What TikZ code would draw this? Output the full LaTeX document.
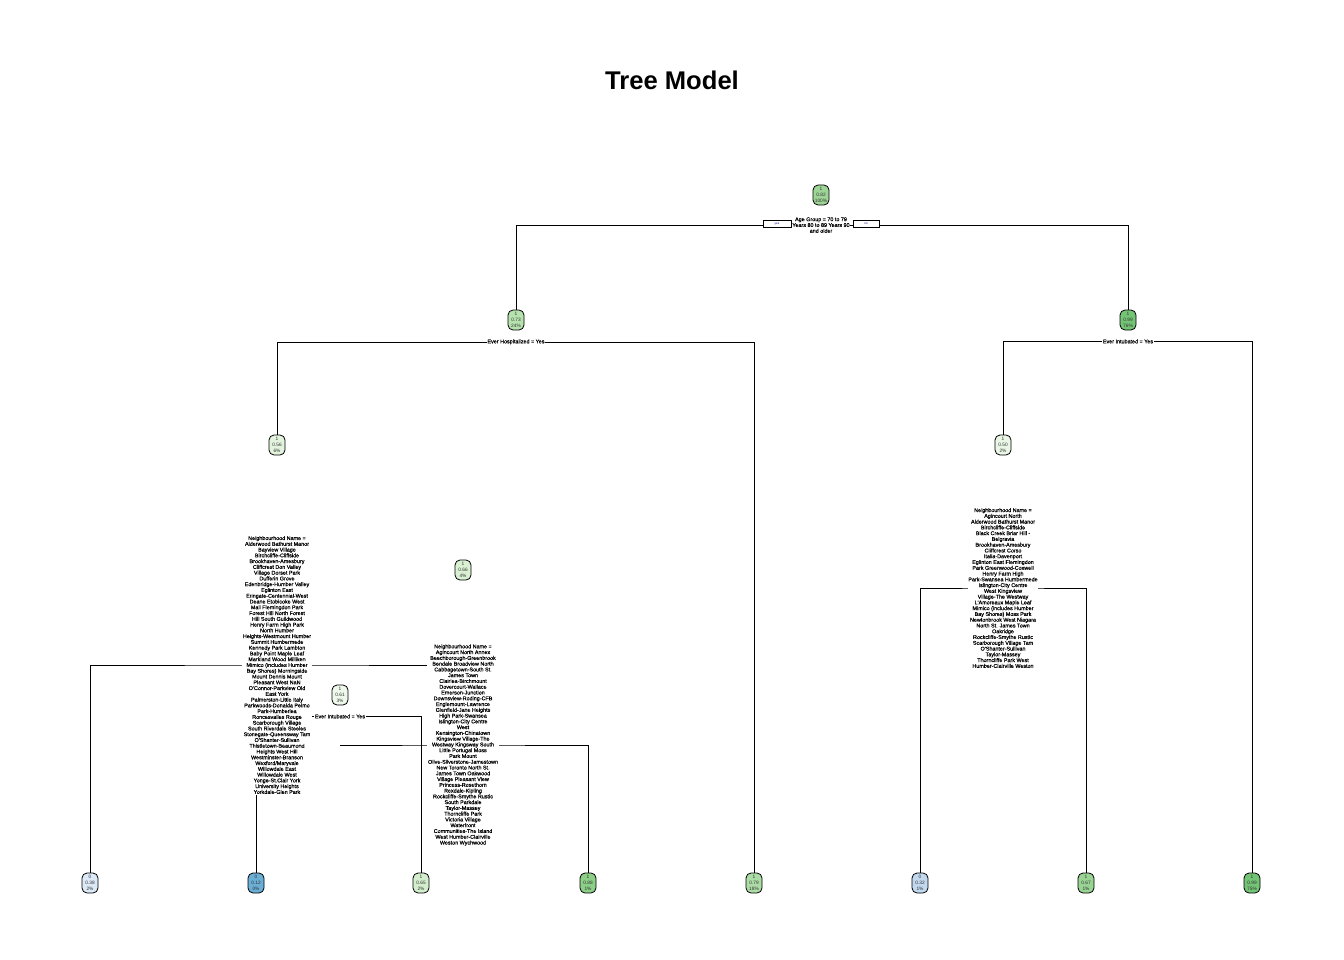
\documentclass[tikz,border=0pt]{standalone}
\usepackage{fontspec}
\setmainfont{Liberation Sans}
\newfontfamily\splitfamily[FakeBold=0.4]{Liberation Sans}
\usetikzlibrary{positioning}
\usetikzlibrary{backgrounds}
\definecolor{gA}{HTML}{9DD597}
\definecolor{gB}{HTML}{B6E2AE}
\definecolor{gC}{HTML}{74C476}
\definecolor{gD}{HTML}{E3F4DE}
\definecolor{gE}{HTML}{EAF6E6}
\definecolor{gF}{HTML}{D9F0D3}
\definecolor{gG}{HTML}{EEF8EB}
\definecolor{gH}{HTML}{D3EECD}
\definecolor{gI}{HTML}{8CCF87}
\definecolor{gJ}{HTML}{ADDDA6}
\definecolor{gK}{HTML}{9AD494}
\definecolor{bA}{HTML}{DCE9F6}
\definecolor{bB}{HTML}{6BAED6}
\definecolor{bC}{HTML}{C1D8EE}
\newcommand{\nodefont}{\fontsize{4.8}{6.3}\selectfont}
\newcommand{\splitfont}{\splitfamily\fontsize{5.4}{5.77}\selectfont}
\tikzstyle{box} = [rectangle, draw, thick, rounded corners=5pt, minimum width=16pt,
                   minimum height=20pt, inner sep=0.5pt, align=center,
                   font=\nodefont, text=black!80]
\tikzstyle{split} = [fill=white, inner sep=0.8pt, align=center, font=\splitfont]
\tikzstyle{yesno} = [draw, fill=white, minimum height=7pt, inner sep=0pt,
                     font=\fontsize{3}{3}\selectfont, text=blue!60!black]
\newcommand{\tnode}[5][]{\node [box, #1] (#2) {#3\\#4\\#5};}
\newcommand{\splitnode}[3][]{\node [split, #1] (#2) {#3};}

\begin{document}
\begin{tikzpicture}[x=1pt, y=-1pt, node distance=8pt]
  \useasboundingbox (0,0) rectangle (1344,960);
  \node [font=\bfseries\fontsize{25.6}{28}\selectfont] (title) at (672,80) {Tree Model};

  % inner nodes
  \tnode[fill=gA, at={(821,195)}] {root} {1} {0.82} {100\%}
  \tnode[fill=gB, at={(516,320)}] {n2} {1} {0.73} {24\%}
  \tnode[fill=gC, at={(1128,320)}] {n3} {1} {0.99} {76\%}
  \tnode[fill=gD, at={(277,445)}] {n4} {1} {0.56} {6\%}
  \tnode[fill=gE, at={(1003,445)}] {n7} {1} {0.50} {2\%}
  \tnode[fill=gF, at={(463,570)}] {n9} {1} {0.66} {4\%}
  \tnode[fill=gG, at={(340,695)}] {n18} {1} {0.61} {3\%}

  % leaves
  \tnode[fill=bA, at={(90,883)}] {l1} {0} {0.38} {2\%}
  \tnode[fill=bB, at={(256,883)}] {l2} {0} {0.12} {0\%}
  \tnode[fill=gH, at={(421,883)}] {l3} {1} {0.65} {2\%}
  \tnode[fill=gI, at={(588,883)}] {l4} {1} {0.88} {1\%}
  \tnode[fill=gJ, at={(754,883)}] {l5} {1} {0.79} {18\%}
  \tnode[fill=bC, at={(920,883)}] {l6} {0} {0.32} {1\%}
  \tnode[fill=gK, at={(1086,883)}] {l7} {1} {0.67} {1\%}
  \tnode[fill=gC, at={(1252,883)}] {l8} {1} {0.99} {75\%}

  % split labels
  \splitnode[below=11pt of root] {rootlab}
    {Age Group = 70 to 79\\Years 80 to 89 Years 90\\and older}
  \node [yesno, minimum width=28pt] (yes) at (777,224) {yes};
  \node [yesno, minimum width=26pt] (no) at (866,224) {no};
  \splitnode[below=of n2] {n2lab} {Ever Hospitalized = Yes}
  \splitnode[below=of n3] {n3lab} {Ever Intubated = Yes}
  \splitnode[below=of n18] {n18lab} {Ever Intubated = Yes}
  \splitnode[at={(277,665)}] {n4lab}
    {Neighbourhood Name =\\Alderwood Bathurst Manor\\Bayview Village\\
     Birchcliffe-Cliffside\\Brookhaven-Amesbury\\Cliffcrest Don Valley\\
     Village Dorset Park\\Dufferin Grove\\Edenbridge-Humber Valley\\
     Eglinton East\\Eringate-Centennial-West\\Deane Etobicoke West\\
     Mall Flemingdon Park\\Forest Hill North Forest\\Hill South Guildwood\\
     Henry Farm High Park\\North Humber\\Heights-Westmount Humber\\
     Summit Humbermede\\Kennedy Park Lambton\\Baby Point Maple Leaf\\
     Markland Wood Milliken\\Mimico (includes Humber\\Bay Shores) Morningside\\
     Mount Dennis Mount\\Pleasant West NaN\\O'Connor-Parkview Old\\East York\\
     Palmerston-Little Italy\\Parkwoods-Donalda Pelmo\\Park-Humberlea\\
     Roncesvalles Rouge\\Scarborough Village\\South Riverdale Steeles\\
     Stonegate-Queensway Tam\\O'Shanter-Sullivan\\Thistletown-Beaumond\\
     Heights West Hill\\Westminster-Branson\\Wexford/Maryvale\\
     Willowdale East\\Willowdale West\\Yonge-St.Clair York\\
     University Heights\\Yorkdale-Glen Park}
  \splitnode[at={(463,745)}] {n9lab}
    {Neighbourhood Name =\\Agincourt North Annex\\Beechborough-Greenbrook\\
     Bendale Broadview North\\Cabbagetown-South St.\\James Town\\
     Clairlea-Birchmount\\Dovercourt-Wallace\\Emerson-Junction\\
     Downsview-Roding-CFB\\Englemount-Lawrence\\Glenfield-Jane Heights\\
     High Park-Swansea\\Islington-City Centre\\West\\Kensington-Chinatown\\
     Kingsview Village-The\\Westway Kingsway South\\Little Portugal Moss\\
     Park Mount\\Olive-Silverstone-Jamestown\\New Toronto North St.\\
     James Town Oakwood\\Village Pleasant View\\Princess-Rosethorn\\
     Rexdale-Kipling\\Rockcliffe-Smythe Rustic\\South Parkdale\\
     Taylor-Massey\\Thorncliffe Park\\Victoria Village\\Waterfront\\
     Communities-The Island\\West Humber-Clairville\\Weston Wychwood}
  \splitnode[at={(1003,588)}] {n7lab}
    {Neighbourhood Name =\\Agincourt North\\Alderwood Bathurst Manor\\
     Birchcliffe-Cliffside\\Black Creek Briar Hill -\\Belgravia\\
     Brookhaven-Amesbury\\Cliffcrest Corso\\Italia-Davenport\\
     Eglinton East Flemingdon\\Park Greenwood-Coxwell\\Henry Farm High\\
     Park-Swansea Humbermede\\Islington-City Centre\\West Kingsview\\
     Village-The Westway\\L'Amoreaux Maple Leaf\\Mimico (includes Humber\\
     Bay Shores) Moss Park\\Newtonbrook West Niagara\\North St. James Town\\
     Oakridge\\Rockcliffe-Smythe Rustic\\Scarborough Village Tam\\
     O'Shanter-Sullivan\\Taylor-Massey\\Thorncliffe Park West\\
     Humber-Clairville Weston}

  % branches
  \begin{scope}[on background layer]
    \draw (n2.north) |- (rootlab.center) -| (n3.north);
    \draw (n4.north) |- (n2lab.center) -| (l5.north);
    \draw (n7.north) |- (n3lab.center) -| (l8.north);
    \draw (l1.north) |- (n4lab.center) -- (n9 |- n4lab.center);
    \draw (n18 |- n9lab.center) -- (n9lab.center) -| (l4.north);
    \draw (l2.north) |- (n18lab.center) -| (l3.north);
    \draw (l6.north) |- (n7lab.center) -| (l7.north);
  \end{scope}
\end{tikzpicture}
\end{document}
